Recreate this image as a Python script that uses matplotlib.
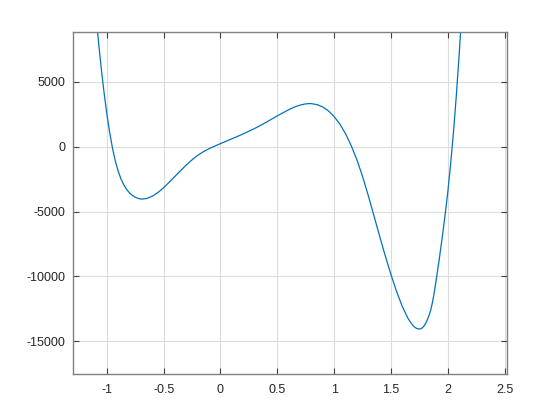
import numpy as np
import matplotlib
matplotlib.use("Agg")
import matplotlib.pyplot as plt

plt.rcParams['font.family'] = ['Liberation Sans', 'DejaVu Sans']
plt.rcParams['axes.unicode_minus'] = False

# points
x_vals = [-1.125, -1.100, -1.075, -1.050, -1.025, -1.000, -0.975, -0.950,
          -0.925, -0.900, -0.875, -0.850, -0.825, -0.800, -0.775, -0.750,
          -0.725, -0.700, -0.690, -0.650, -0.600, -0.550, -0.500, -0.450,
          -0.400, -0.350, -0.300, -0.250, -0.200, -0.150, -0.100, -0.050,
          0.000, 0.050, 0.100, 0.150, 0.200, 0.250, 0.300, 0.350,
          0.400, 0.450, 0.500, 0.550, 0.600, 0.650, 0.700, 0.750,
          0.786, 0.800, 0.850, 0.900, 0.950, 1.000, 1.050, 1.100,
          1.150, 1.200, 1.250, 1.300, 1.350, 1.400, 1.450, 1.500,
          1.550, 1.600, 1.650, 1.675, 1.700, 1.7125, 1.725, 1.7375,
          1.750, 1.7625, 1.775, 1.7875, 1.800, 1.8125, 1.825, 1.8375,
          1.850, 1.8625, 1.875, 1.8875, 1.900, 1.925, 1.950, 1.975,
          2.000, 2.025, 2.050, 2.075, 2.100, 2.125]
y_vals = [13200, 10550, 8180, 6050, 4170, 2500, 1070, -145,
          -1130, -1910, -2510, -2960, -3310, -3570, -3760, -3900,
          -3990, -4035, -4040, -3996, -3821, -3531, -3156, -2728,
          -2280, -1835, -1407, -1012, -667, -385, -155, 45,
          233, 418, 603, 790, 983, 1185, 1398, 1628,
          1868, 2120, 2368, 2610, 2843, 3045, 3200, 3295,
          3317, 3313, 3237, 3055, 2753, 2321, 1746, 1009,
          84, -1001, -2282, -3746, -5307, -6881, -8405, -9845,
          -11162, -12309, -13224, -13560, -13834, -13930, -13995, -14035,
          -14050, -14030, -13965, -13860, -13700, -13500, -13250, -12950,
          -12600, -12120, -11560, -10900, -10180, -8700, -7100, -5400,
          -3550, -1400, 1050, 3850, 7000, 10500]

x_ticks = [-1, -0.5, 0, 0.5, 1, 1.5, 2, 2.5]
x_labels = ['-1', '-0.5', '0', '0.5', '1', '1.5', '2', '2.5']
y_ticks = [-15000, -10000, -5000, 0, 5000]
y_labels = ['-15000', '-10000', '-5000', '0', '5000']

fig = plt.figure(figsize=(5.6, 4.2), dpi=100)
ax = fig.add_axes([0.13, 0.11, 0.775, 0.815])

ax.plot(x_vals, y_vals, color='#0072BD', linewidth=0.9)

ax.set_xlim(-1.3, 2.52)
ax.set_ylim(-17500, 8870)
ax.set_xticks(x_ticks)
ax.set_xticklabels(x_labels)
ax.set_yticks(y_ticks)
ax.set_yticklabels(y_labels)

ax.grid(True, color='#dcdcdc', linewidth=0.8)
ax.set_axisbelow(True)
for s in ax.spines.values():
    s.set_color('#808080')
    s.set_linewidth(1.0)
ax.tick_params(direction='in', length=4, width=0.8, color='#404040',
               labelsize=9, labelcolor='#262626', top=True, right=True)
ax.tick_params(axis='x', pad=7)
ax.tick_params(axis='y', pad=5)

fig.savefig('out.png', dpi=100, facecolor='white')
